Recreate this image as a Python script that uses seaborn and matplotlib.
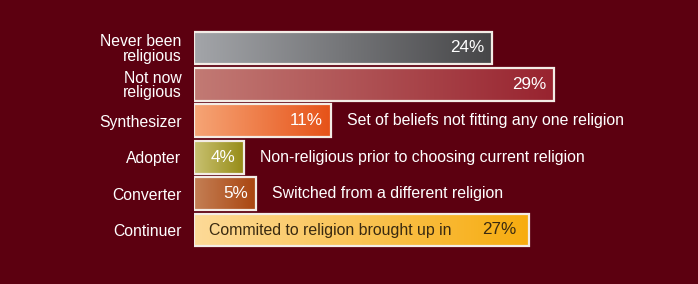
import numpy as np
import pandas as pd
import matplotlib
matplotlib.use("Agg")
import matplotlib.pyplot as plt
import seaborn as sns
from matplotlib.colors import LinearSegmentedColormap

categories = ["Never been\nreligious", "Not now\nreligious", "Synthesizer", "Adopter", "Converter", "Continuer"]
values = [24, 29, 11, 4, 5, 27]
notes = ["", "", "Set of beliefs not fitting any one religion",
         "Non-religious prior to choosing current religion",
         "Switched from a different religion",
         "Commited to religion brought up in"]
grad_start = ["#a3a5a9", "#c27a74", "#f6a576", "#c9c272", "#c47f55", "#fdda98"]
grad_end = ["#464648", "#98232f", "#e65218", "#968b16", "#a9450f", "#f7ac0e"]
value_colors = ["white", "white", "white", "white", "white", "#3a2a10"]

bg = "#5c0010"
sns.set_theme(style="white")
plt.rcParams['font.family'] = ['Liberation Sans', 'DejaVu Sans']

df = pd.DataFrame({"cat": categories, "val": values})

fig = plt.figure(figsize=(6.98, 2.84), dpi=100, facecolor=bg)
W, H = 698, 284
left, right = 194, 698
top, bottom = 29.8, 248.2
ax = fig.add_axes([left / W, 1 - bottom / H, (right - left) / W, (bottom - top) / H])
ax.set_facecolor(bg)

sns.barplot(data=df, x="val", y="cat", orient="h", ax=ax, width=0.9,
            color="#888888", edgecolor="#f3ece6", linewidth=1.6)
xmax = (right - left) / 12.42

for i, p in enumerate(ax.patches):
    cmap = LinearSegmentedColormap.from_list("g%d" % i, [grad_start[i], grad_end[i]])
    x0, y0 = p.get_x(), p.get_y()
    w, h = p.get_width(), p.get_height()
    grad = np.linspace(0, 1, 256).reshape(1, -1)
    im = ax.imshow(grad, cmap=cmap, aspect="auto", extent=[x0, x0 + w, y0 + h, y0],
                   zorder=1, interpolation="bicubic")
    im.set_clip_path(p)
    p.set_facecolor("none")
    p.set_zorder(3)
ax.set_ylim(5.5, -0.5)
ax.set_xlim(0, xmax)

px = 1 / 12.42
for i, (v, n) in enumerate(zip(values, notes)):
    last = i == len(values) - 1
    ax.text(v - (13 if last else 8) * px, i, f"{v}%", ha="right", va="center",
            color=value_colors[i], fontsize=12.3, zorder=5)
    if n:
        if last:
            ax.text(15 * px, i, n, ha="left", va="center", color="#3a2a10", fontsize=11.4, zorder=5)
        else:
            ax.text(v + 16 * px, i, n, ha="left", va="center", color="white", fontsize=11.4, zorder=5)

ax.set_xlabel("")
ax.set_ylabel("")
ax.set_xticks([])
ax.tick_params(axis="y", length=0, pad=9, labelsize=11.3, labelcolor="white")
for lab in ax.get_yticklabels():
    lab.set_linespacing(0.92)
for s in ax.spines.values():
    s.set_visible(False)

fig.savefig("out.png", dpi=100, facecolor=bg)
